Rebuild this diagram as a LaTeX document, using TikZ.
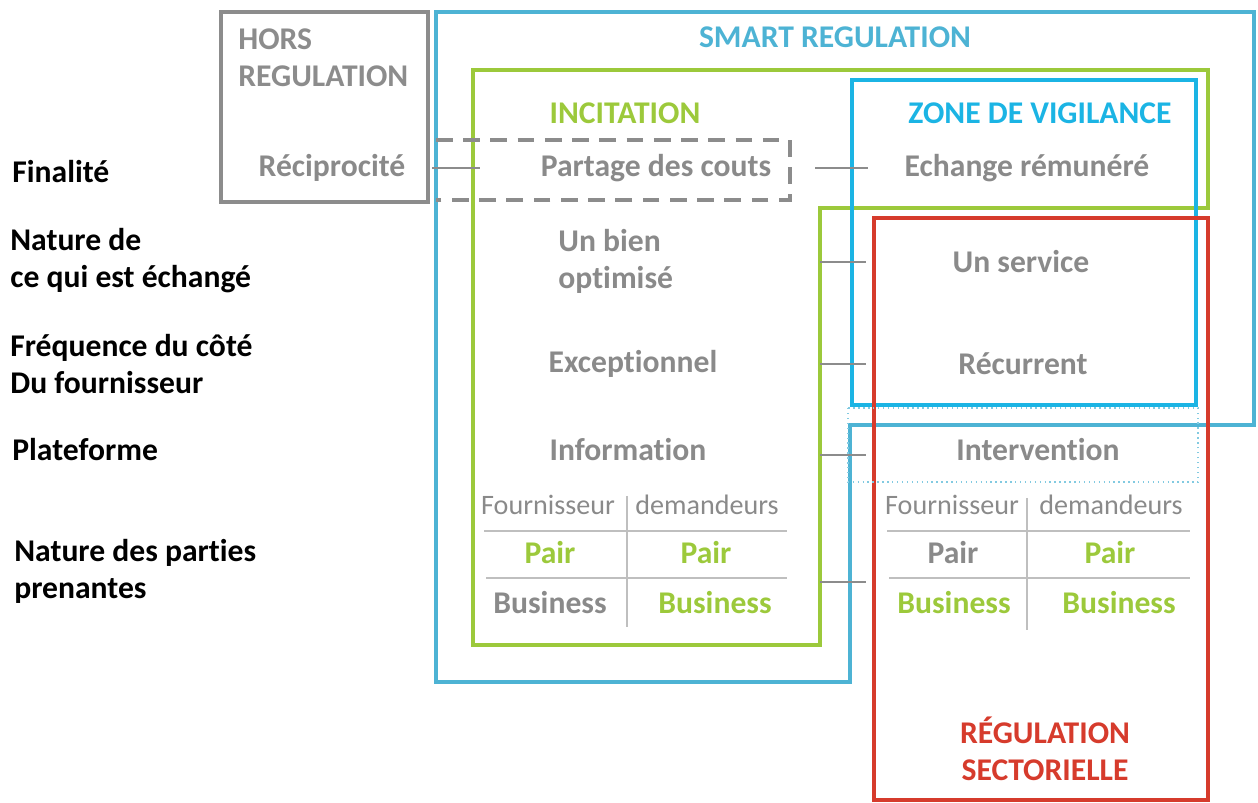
\documentclass[tikz,border=0pt]{standalone}
\usepackage{fontspec}
\setmainfont{Carlito}[Ligatures={NoCommon}]
\definecolor{horsgray}{HTML}{8C8C8C}
\definecolor{txtgray}{HTML}{8A8A8A}
\definecolor{smartblue}{HTML}{4DB3D4}
\definecolor{vigblue}{HTML}{1BB4E4}
\definecolor{incgreen}{HTML}{9CC93B}
\definecolor{secred}{HTML}{D63B2C}
\tikzset{
  big/.style={font=\bfseries\fontsize{18}{21}\selectfont, inner sep=0pt},
  crit/.style={big, text=black, anchor=west, align=left},
  item/.style={big, text=txtgray},
  head/.style={big},
  cell/.style={font=\fontsize{16}{19}\selectfont, text=txtgray, inner sep=0pt},
  gcell/.style={big, text=incgreen},
  kcell/.style={big, text=txtgray},
  frame/.style={line width=2.4pt},
  link/.style={draw=horsgray, line width=0.8pt},
  grid/.style={draw=black!25, line width=0.9pt}
}
\begin{document}
\begin{tikzpicture}[x=0.02cm, y=-0.02cm]
\useasboundingbox (0,0) rectangle (1258,803);
% boxes
\draw[frame, horsgray] (221,12) rectangle (428,202);
\draw[frame, smartblue] (436,12) -- (1254,12) -- (1254,425) -- (850,425) -- (850,682) -- (436,682) -- cycle;
\draw[frame, incgreen] (473,70) -- (1208,70) -- (1208,208) -- (820,208) -- (820,645) -- (473,645) -- cycle;
\draw[frame, vigblue] (852,80) rectangle (1196,405);
\draw[frame, secred] (874,218) rectangle (1208,800);
\draw[horsgray, line width=2.4pt, dash pattern=on 9.5pt off 6pt] (436,140) -- (790,140) -- (790,200) -- (436,200);
\draw[smartblue!70, line width=0.8pt, dotted] (848,408) rectangle (1198,482);

% titles
\node[head, text=horsgray, anchor=west, align=left] (hors) at (238,58) {HORS\\REGULATION};
\node[head, text=smartblue] (smart) at (835,37) {SMART REGULATION};
\node[head, text=incgreen] (incit) at (625,113) {INCITATION};
\node[head, text=vigblue] (vigil) at (1040,113) {ZONE DE VIGILANCE};
\node[head, text=secred, align=center] (secto) at (1045,749) {RÉGULATION\\SECTORIELLE};

% criteria
\node[crit] (fin) at (12,172) {Finalité};
\node[crit] (nat) at (10,261) {Nature de\\ce qui est échangé};
\node[crit] (freq) at (10,364) {Fréquence du côté\\Du fournisseur};
\node[crit] (plat) at (12,450) {Plateforme};
\node[crit] (part) at (14,571) {Nature des parties\\prenantes};

% values
\node[item] (recip) at (332,168) {Réciprocité};
\node[item] (partage) at (656,168) {Partage des couts};
\node[item] (echange) at (1027,168) {Echange rémunéré};
\node[item, anchor=west, align=left] (bien) at (558,261) {Un bien\\optimisé};
\node[item] (service) at (1021,262) {Un service};
\node[item] (except) at (633,364) {Exceptionnel};
\node[item] (recur) at (1023,364) {Récurrent};
\node[item] (info) at (628,450) {Information};
\node[item] (interv) at (1038,450) {Intervention};

% links
\coordinate (l1a) at (432,168); \coordinate (l1b) at (480,168);
\coordinate (l2a) at (815,168); \coordinate (l2b) at (868,168);
\coordinate (l3a) at (820,262); \coordinate (l3b) at (866,262);
\coordinate (l4a) at (820,364); \coordinate (l4b) at (866,364);
\coordinate (l5a) at (820,455); \coordinate (l5b) at (866,455);
\coordinate (l6a) at (820,582); \coordinate (l6b) at (866,582);
\path[link] (l1a) -- (l1b);
\path[link] (l2a) -- (l2b);
\path[link] (l3a) -- (l3b);
\path[link] (l4a) -- (l4b);
\path[link] (l5a) -- (l5b);
\path[link] (l6a) -- (l6b);

% table incitation
\node[cell] (fa) at (548,505) {Fournisseur};
\node[cell] (da) at (707,505) {demandeurs};
\node[gcell] (pa1) at (550,553) {Pair};
\node[gcell] (pa2) at (706,553) {Pair};
\node[kcell] (ba1) at (550,603) {Business};
\node[gcell] (ba2) at (715,603) {Business};
\path[grid] (484,531) -- (787,531);
\path[grid] (486,578) -- (787,578);
\path[grid] (627,496) -- (627,627);

% table sectorielle
\node[cell] (fb) at (952,505) {Fournisseur};
\node[cell] (db) at (1111,505) {demandeurs};
\node[kcell] (pb1) at (953,553) {Pair};
\node[gcell] (pb2) at (1110,553) {Pair};
\node[gcell] (bb1) at (954,603) {Business};
\node[gcell] (bb2) at (1119,603) {Business};
\path[grid] (887,531) -- (1190,531);
\path[grid] (889,578) -- (1190,578);
\path[grid] (1027,498) -- (1027,630);
\end{tikzpicture}
\end{document}
